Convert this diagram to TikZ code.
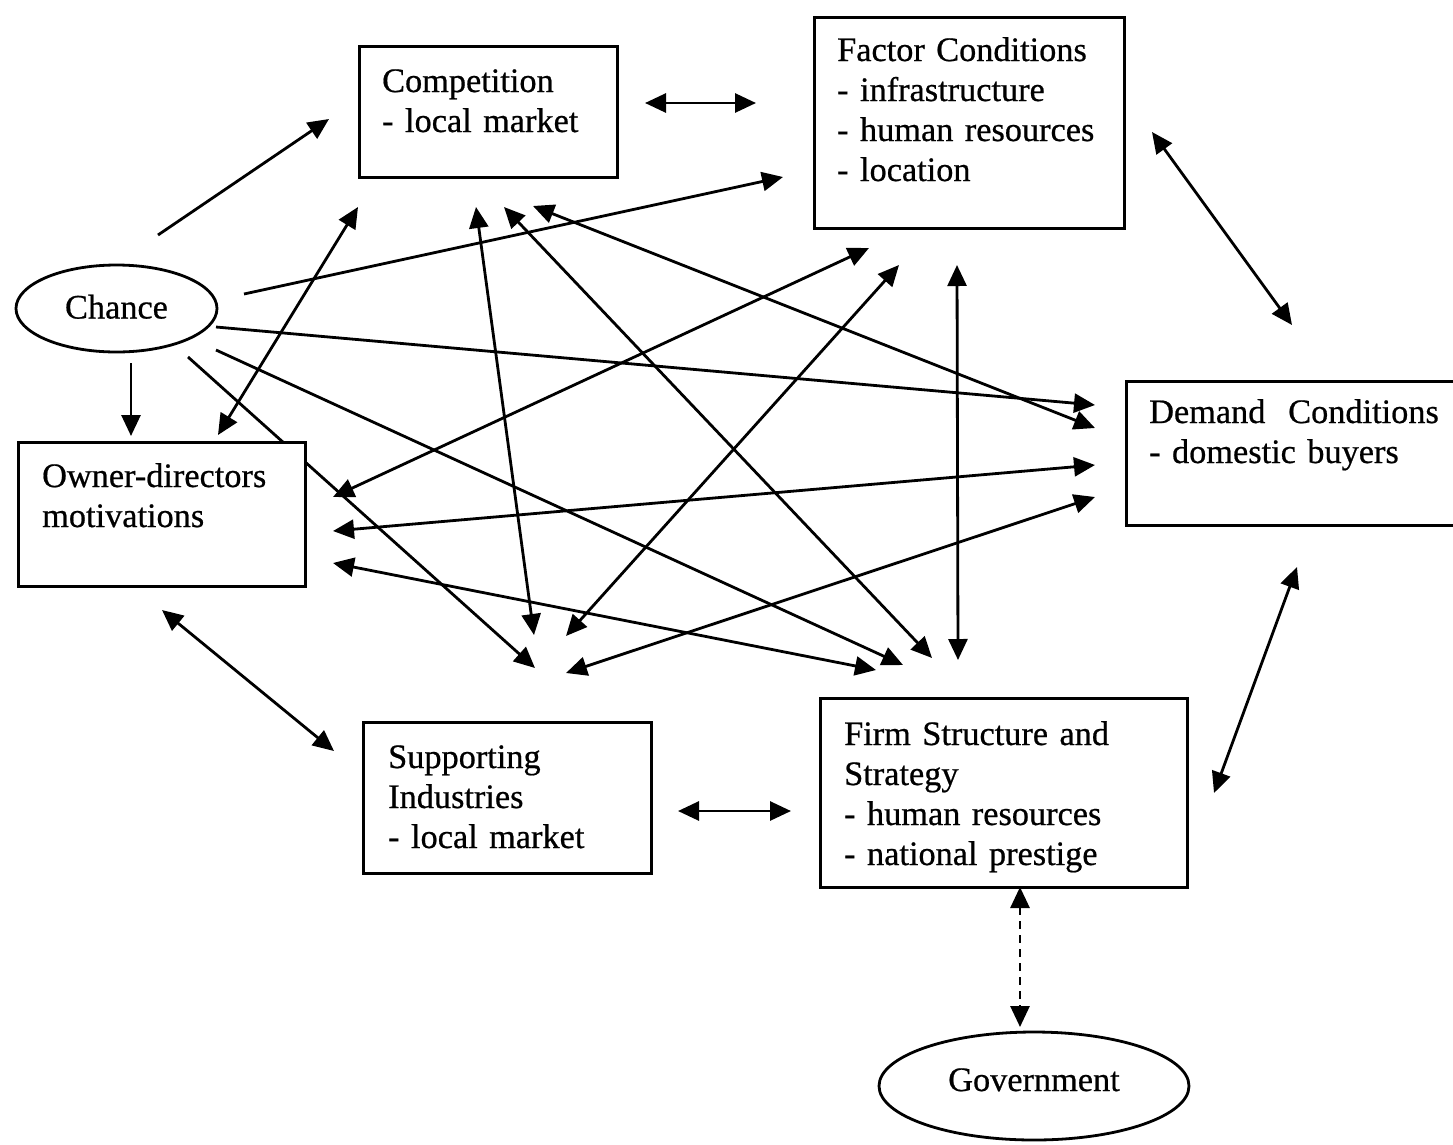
\documentclass[tikz,border=0pt]{standalone}
\usepackage{fontspec}
\setmainfont{Liberation Serif}[FakeBold=0.6, WordSpace=0.85]
\usetikzlibrary{arrows.meta,shapes.geometric}
\begin{document}
\begin{tikzpicture}[x=1pt,y=-1pt,
  every node/.style={font=\fontsize{34.3}{40}\selectfont},
  box/.style={draw, line width=2.8pt, fill=white, rectangle, anchor=north west, inner sep=0pt},
  oval/.style={draw, line width=2.8pt, fill=white, ellipse, inner sep=0pt, text height=23pt, text depth=3pt},
  txt/.style={anchor=base west, inner sep=0pt, text width=360pt, align=left},
  link/.style={line width=2.8pt, -{Triangle[length=21pt,width=19pt]}},
  dlink/.style={line width=2.8pt, {Triangle[length=21pt,width=19pt]}-{Triangle[length=21pt,width=19pt]}},
]
\useasboundingbox (0,0) rectangle (1453,1144);
\fill[white] (0,0) rectangle (1453,1144);
\begin{scope}
\clip (0,0) rectangle (1453,1144);

% connector end points
\coordinate (a1) at (158,235);  \coordinate (b1) at (329,119);
\coordinate (a2) at (645,103);  \coordinate (b2) at (756,103);
\coordinate (a3) at (244,294);  \coordinate (b3) at (783,177);
\coordinate (a4) at (216,327);  \coordinate (b4) at (1095,405);
\coordinate (a5) at (131,363);  \coordinate (b5) at (131,436);
\coordinate (a6) at (188,357);  \coordinate (b6) at (535,668);
\coordinate (a7) at (216,350);  \coordinate (b7) at (903,665);
\coordinate (a8) at (218,435);  \coordinate (b8) at (358,207);
\coordinate (a9) at (333,497);  \coordinate (b9) at (869,248);
\coordinate (a10) at (333,531); \coordinate (b10) at (1095,465);
\coordinate (a11) at (333,563); \coordinate (b11) at (876,670);
\coordinate (a12) at (162,610); \coordinate (b12) at (334,751);
\coordinate (a13) at (476,207); \coordinate (b13) at (534,635);
\coordinate (a14) at (504,207); \coordinate (b14) at (932,658);
\coordinate (a15) at (533,206); \coordinate (b15) at (1095,428);
\coordinate (a16) at (899,265); \coordinate (b16) at (566,636);
\coordinate (a17) at (957,265); \coordinate (b17) at (958,660);
\coordinate (a18) at (1152,132);\coordinate (b18) at (1292,325);
\coordinate (a19) at (1095,497);\coordinate (b19) at (566,673);
\coordinate (a20) at (1297,567);\coordinate (b20) at (1214,793);
\coordinate (a21) at (678,811); \coordinate (b21) at (791,811);
\coordinate (a22) at (1020,887);\coordinate (b22) at (1020,1027);

% connectors
\draw[link] (a1) -- (b1);
\draw[dlink] (a2) -- (b2);
\draw[link] (a3) -- (b3);
\draw[link] (a4) -- (b4);
\draw[link] (a5) -- (b5);
\draw[link] (a6) -- (b6);
\draw[link] (a7) -- (b7);
\draw[dlink] (a8) -- (b8);
\draw[dlink] (a9) -- (b9);
\draw[dlink] (a10) -- (b10);
\draw[dlink] (a11) -- (b11);
\draw[dlink] (a12) -- (b12);
\draw[dlink] (a13) -- (b13);
\draw[dlink] (a14) -- (b14);
\draw[dlink] (a15) -- (b15);
\draw[dlink] (a16) -- (b16);
\draw[dlink] (a17) -- (b17);
\draw[dlink] (a18) -- (b18);
\draw[dlink] (a19) -- (b19);
\draw[dlink] (a20) -- (b20);
\draw[dlink] (a21) -- (b21);
\draw[dlink, dash pattern=on 8pt off 6pt] (a22) -- (b22);

% boxes
\node[box, minimum width=258pt, minimum height=131pt] (comp) at (358,45) {};
\node[txt] (compt) at (382,92) {Competition\\- local market};

\node[box, minimum width=310pt, minimum height=211pt] (fact) at (813,16) {};
\node[txt] (factt) at (837,61) {Factor Conditions\\- infrastructure\\- human resources\\- location};

\node[box, minimum width=287pt, minimum height=144pt] (owner) at (17,441) {};
\node[txt] (ownert) at (42,487) {Owner-directors\\motivations};

\node[box, minimum width=340pt, minimum height=144pt] (demand) at (1125,380) {};
\node[txt] (demandt) at (1149,423) {Demand\ \ Conditions\\- domestic buyers};

\node[box, minimum width=288pt, minimum height=151pt] (supp) at (362,721) {};
\node[txt] (suppt) at (388,768) {Supporting\\Industries\\- local market};

\node[box, minimum width=367pt, minimum height=189pt] (firm) at (819,697) {};
\node[txt] (firmt) at (844,745) {Firm Structure and\\Strategy\\- human resources\\- national prestige};

\node[oval, minimum width=201pt, minimum height=87pt] (chance) at (116.5,308.5) {Chance};
\node[oval, minimum width=310pt, minimum height=108pt, text depth=13pt] (gov) at (1034,1086) {Government};
\end{scope}
\end{tikzpicture}
\end{document}
